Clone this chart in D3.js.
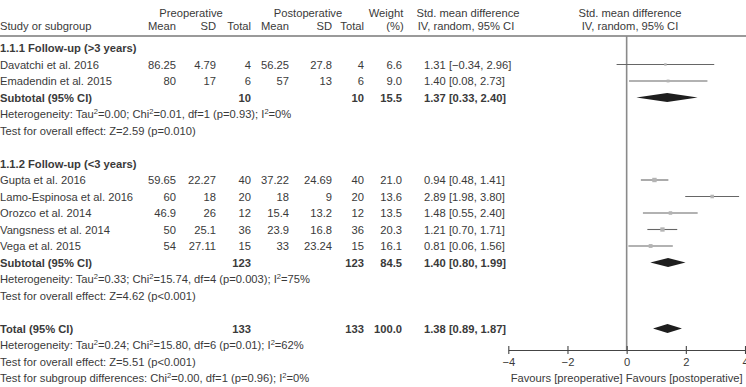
<!DOCTYPE html>
<html>
<head>
<meta charset="utf-8">
<script src="https://cdn.jsdelivr.net/npm/d3@7"></script>
<style>
  body { margin: 0; background: #fff; }
  svg text { font-family: "Liberation Sans", Arial, sans-serif; font-size: 11.2px; fill: #3a3a3a; }
  .bold { font-weight: bold; }
</style>
</head>
<body>
<div id="chart"></div>
<script>
// Study rows
var studyNames = ["Davatchi et al. 2016", "Emadendin et al. 2015",
  "Gupta et al. 2016", "Lamo-Espinosa et al. 2016", "Orozco et al. 2014", "Vangsness et al. 2014", "Vega et al. 2015"];
var studyGroup = [0, 0, 1, 1, 1, 1, 1];
var preMean  = ["86.25", "80", "59.65", "60", "46.9", "50", "54"];
var preSD    = ["4.79", "17", "22.27", "18", "26", "25.1", "27.11"];
var preTotal = [4, 6, 40, 20, 12, 36, 15];
var postMean  = ["56.25", "57", "37.22", "18", "15.4", "23.9", "33"];
var postSD    = ["27.8", "13", "24.69", "9", "13.2", "16.8", "23.24"];
var postTotal = [4, 6, 40, 20, 12, 36, 15];
var weights = [6.6, 9.0, 21.0, 13.6, 13.5, 20.3, 16.1];
var smd   = [1.31, 1.40, 0.94, 2.89, 1.48, 1.21, 0.81];
var ciLow = [-0.34, 0.08, 0.48, 1.98, 0.55, 0.70, 0.06];
var ciHigh = [2.96, 2.73, 1.41, 3.80, 2.40, 1.71, 1.56];

// Subgroups and overall
var groupTitles = ["1.1.1 Follow-up (>3 years)", "1.1.2 Follow-up (<3 years)"];
var groupPreTotal = [10, 123];
var groupPostTotal = [10, 123];
var groupWeight = ["15.5", "84.5"];
var groupSmd = [1.37, 1.40];
var groupLow = [0.33, 0.80];
var groupHigh = [2.40, 1.99];
var groupHet = ["Heterogeneity: Tau^2=0.00; Chi^2=0.01, df=1 (p=0.93); I^2=0%",
                "Heterogeneity: Tau^2=0.33; Chi^2=15.74, df=4 (p=0.003); I^2=75%"];
var groupTest = ["Test for overall effect: Z=2.59 (p=0.010)", "Test for overall effect: Z=4.62 (p<0.001)"];

var totalSmd = 1.38, totalLow = 0.89, totalHigh = 1.87;
var totalHet = "Heterogeneity: Tau^2=0.24; Chi^2=15.80, df=6 (p=0.01); I^2=62%";
var totalTest = "Test for overall effect: Z=5.51 (p<0.001)";
var subgroupTest = "Test for subgroup differences: Chi^2=0.00, df=1 (p=0.96); I^2=0%";

var axisTicks = [-4, -2, 0, 2, 4];

var width = 746, height = 387;
var svg = d3.select("#chart").append("svg")
  .attr("width", width)
  .attr("height", height);

var fmt = d3.format(".2f");
function ciText(m, l, h) {
  return fmt(m) + " [" + fmt(l).replace("-", "\u2212") + ", " + fmt(h) + "]";
}

// build the list of rows
var rows = [];
groupTitles.forEach(function (title, g) {
  rows.push({ type: "title", label: title });
  studyNames.forEach(function (name, i) {
    if (studyGroup[i] !== g) return;
    rows.push({ type: "study", label: name, i: i });
  });
  rows.push({ type: "sub", label: "Subtotal (95% CI)", g: g });
  rows.push({ type: "note", label: groupHet[g] });
  rows.push({ type: "note", label: groupTest[g] });
  rows.push({ type: "blank" });
});
rows.push({ type: "total", label: "Total (95% CI)" });
rows.push({ type: "note", label: totalHet });
rows.push({ type: "note", label: totalTest });
rows.push({ type: "note", label: subgroupTest });

var y = d3.scaleLinear().domain([0, 1]).range([48, 64.5]);
var x = d3.scaleLinear().domain([-4, 4]).range([508.3, 745]);
var axisY = 350;

// column right edges
var col = { preMean: 176, preSD: 216, preTotal: 251, postMean: 289, postSD: 332, postTotal: 364, weight: 402, ci: 424 };

function addText(tx, ty, str, anchor, bold) {
  var t = svg.append("text")
    .attr("x", tx)
    .attr("y", ty + 4)
    .attr("text-anchor", anchor || "start")
    .classed("bold", !!bold);
  var parts = String(str).split("^2");
  parts.forEach(function (p, k) {
    var sp = t.append("tspan").text(p);
    if (k > 0) sp.attr("dy", 4);
    if (k < parts.length - 1) {
      t.append("tspan").attr("dy", -4).style("font-size", "7.5px").text("2");
    }
  });
  return t;
}

// headers
addText(191, 12.7, "Preoperative", "middle");
addText(308, 12.7, "Postoperative", "middle");
addText(386, 12.7, "Weight", "middle");
addText(468, 12.7, "Std. mean difference", "middle");
addText(630, 12.7, "Std. mean difference", "middle");
addText(0, 25.7, "Study or subgroup");
addText(col.preMean, 25.7, "Mean", "end");
addText(col.preSD, 25.7, "SD", "end");
addText(col.preTotal, 25.7, "Total", "end");
addText(col.postMean, 25.7, "Mean", "end");
addText(col.postSD, 25.7, "SD", "end");
addText(col.postTotal, 25.7, "Total", "end");
addText(395, 25.7, "(%)", "middle");
addText(466, 25.7, "IV, random, 95% CI", "middle");
addText(630, 25.7, "IV, random, 95% CI", "middle");

svg.append("line")
  .attr("x1", 0).attr("x2", width)
  .attr("y1", 36).attr("y2", 36)
  .attr("stroke", "#9a9a9a").attr("stroke-width", 2);

// zero line
svg.append("line")
  .attr("x1", x(0)).attr("x2", x(0))
  .attr("y1", 36).attr("y2", axisY)
  .attr("stroke", "#8a8a8a").attr("stroke-width", 1.6);

var sq = d3.scaleSqrt().domain([0, 25]).range([0, 4.8]);

function diamond(cy, m, l, h) {
  var hh = 4.6;
  svg.append("path")
    .attr("d", "M" + x(l) + "," + cy + "L" + x(m) + "," + (cy - hh) + "L" + x(h) + "," + cy + "L" + x(m) + "," + (cy + hh) + "Z")
    .attr("fill", "#1e1e1e");
}

rows.forEach(function (r, k) {
  var cy = y(k);
  if (r.type === "title") {
    addText(0, cy, r.label, "start", true);
  } else if (r.type === "study") {
    var i = r.i;
    addText(0, cy, r.label);
    addText(col.preMean, cy, preMean[i], "end");
    addText(col.preSD, cy, preSD[i], "end");
    addText(col.preTotal, cy, preTotal[i], "end");
    addText(col.postMean, cy, postMean[i], "end");
    addText(col.postSD, cy, postSD[i], "end");
    addText(col.postTotal, cy, postTotal[i], "end");
    addText(col.weight, cy, d3.format(".1f")(weights[i]), "end");
    addText(col.ci, cy, ciText(smd[i], ciLow[i], ciHigh[i]));
    svg.append("line")
      .attr("x1", x(ciLow[i])).attr("x2", x(Math.min(ciHigh[i], 4)))
      .attr("y1", cy).attr("y2", cy)
      .attr("stroke", "#666").attr("stroke-width", 1.1);
    var s = sq(weights[i]);
    svg.append("rect")
      .attr("x", x(smd[i]) - s / 2).attr("y", cy - s / 2)
      .attr("width", s).attr("height", s)
      .attr("fill", "#b4b4b4");
  } else if (r.type === "sub") {
    var g = r.g;
    addText(0, cy, r.label, "start", true);
    addText(col.preTotal, cy, groupPreTotal[g], "end", true);
    addText(col.postTotal, cy, groupPostTotal[g], "end", true);
    addText(col.weight, cy, groupWeight[g], "end", true);
    addText(col.ci, cy, ciText(groupSmd[g], groupLow[g], groupHigh[g]), "start", true);
    diamond(cy, groupSmd[g], groupLow[g], groupHigh[g]);
  } else if (r.type === "total") {
    addText(0, cy, r.label, "start", true);
    addText(col.preTotal, cy, d3.sum(preTotal), "end", true);
    addText(col.postTotal, cy, d3.sum(postTotal), "end", true);
    addText(col.weight, cy, "100.0", "end", true);
    addText(col.ci, cy, ciText(totalSmd, totalLow, totalHigh), "start", true);
    diamond(cy, totalSmd, totalLow, totalHigh);
  } else if (r.type === "note") {
    addText(0, cy, r.label);
  }
});

// axis
var axis = d3.axisBottom(x).tickValues(axisTicks).tickSizeInner(4).tickSizeOuter(0).tickPadding(4);
var ax = svg.append("g")
  .attr("transform", "translate(0," + axisY + ")")
  .call(axis);
ax.select(".domain").attr("stroke", "#444").attr("stroke-width", 1.1);
ax.selectAll(".tick line").attr("y1", -4).attr("stroke", "#444").attr("stroke-width", 1.1);
ax.selectAll(".tick text")
  .style("font-family", "'Liberation Sans', Arial, sans-serif")
  .style("font-size", "11.2px")
  .attr("fill", "#3a3a3a");

addText(x(0), 378, "Favours [preoperative] Favours [postoperative]", "middle");
</script>
</body>
</html>
